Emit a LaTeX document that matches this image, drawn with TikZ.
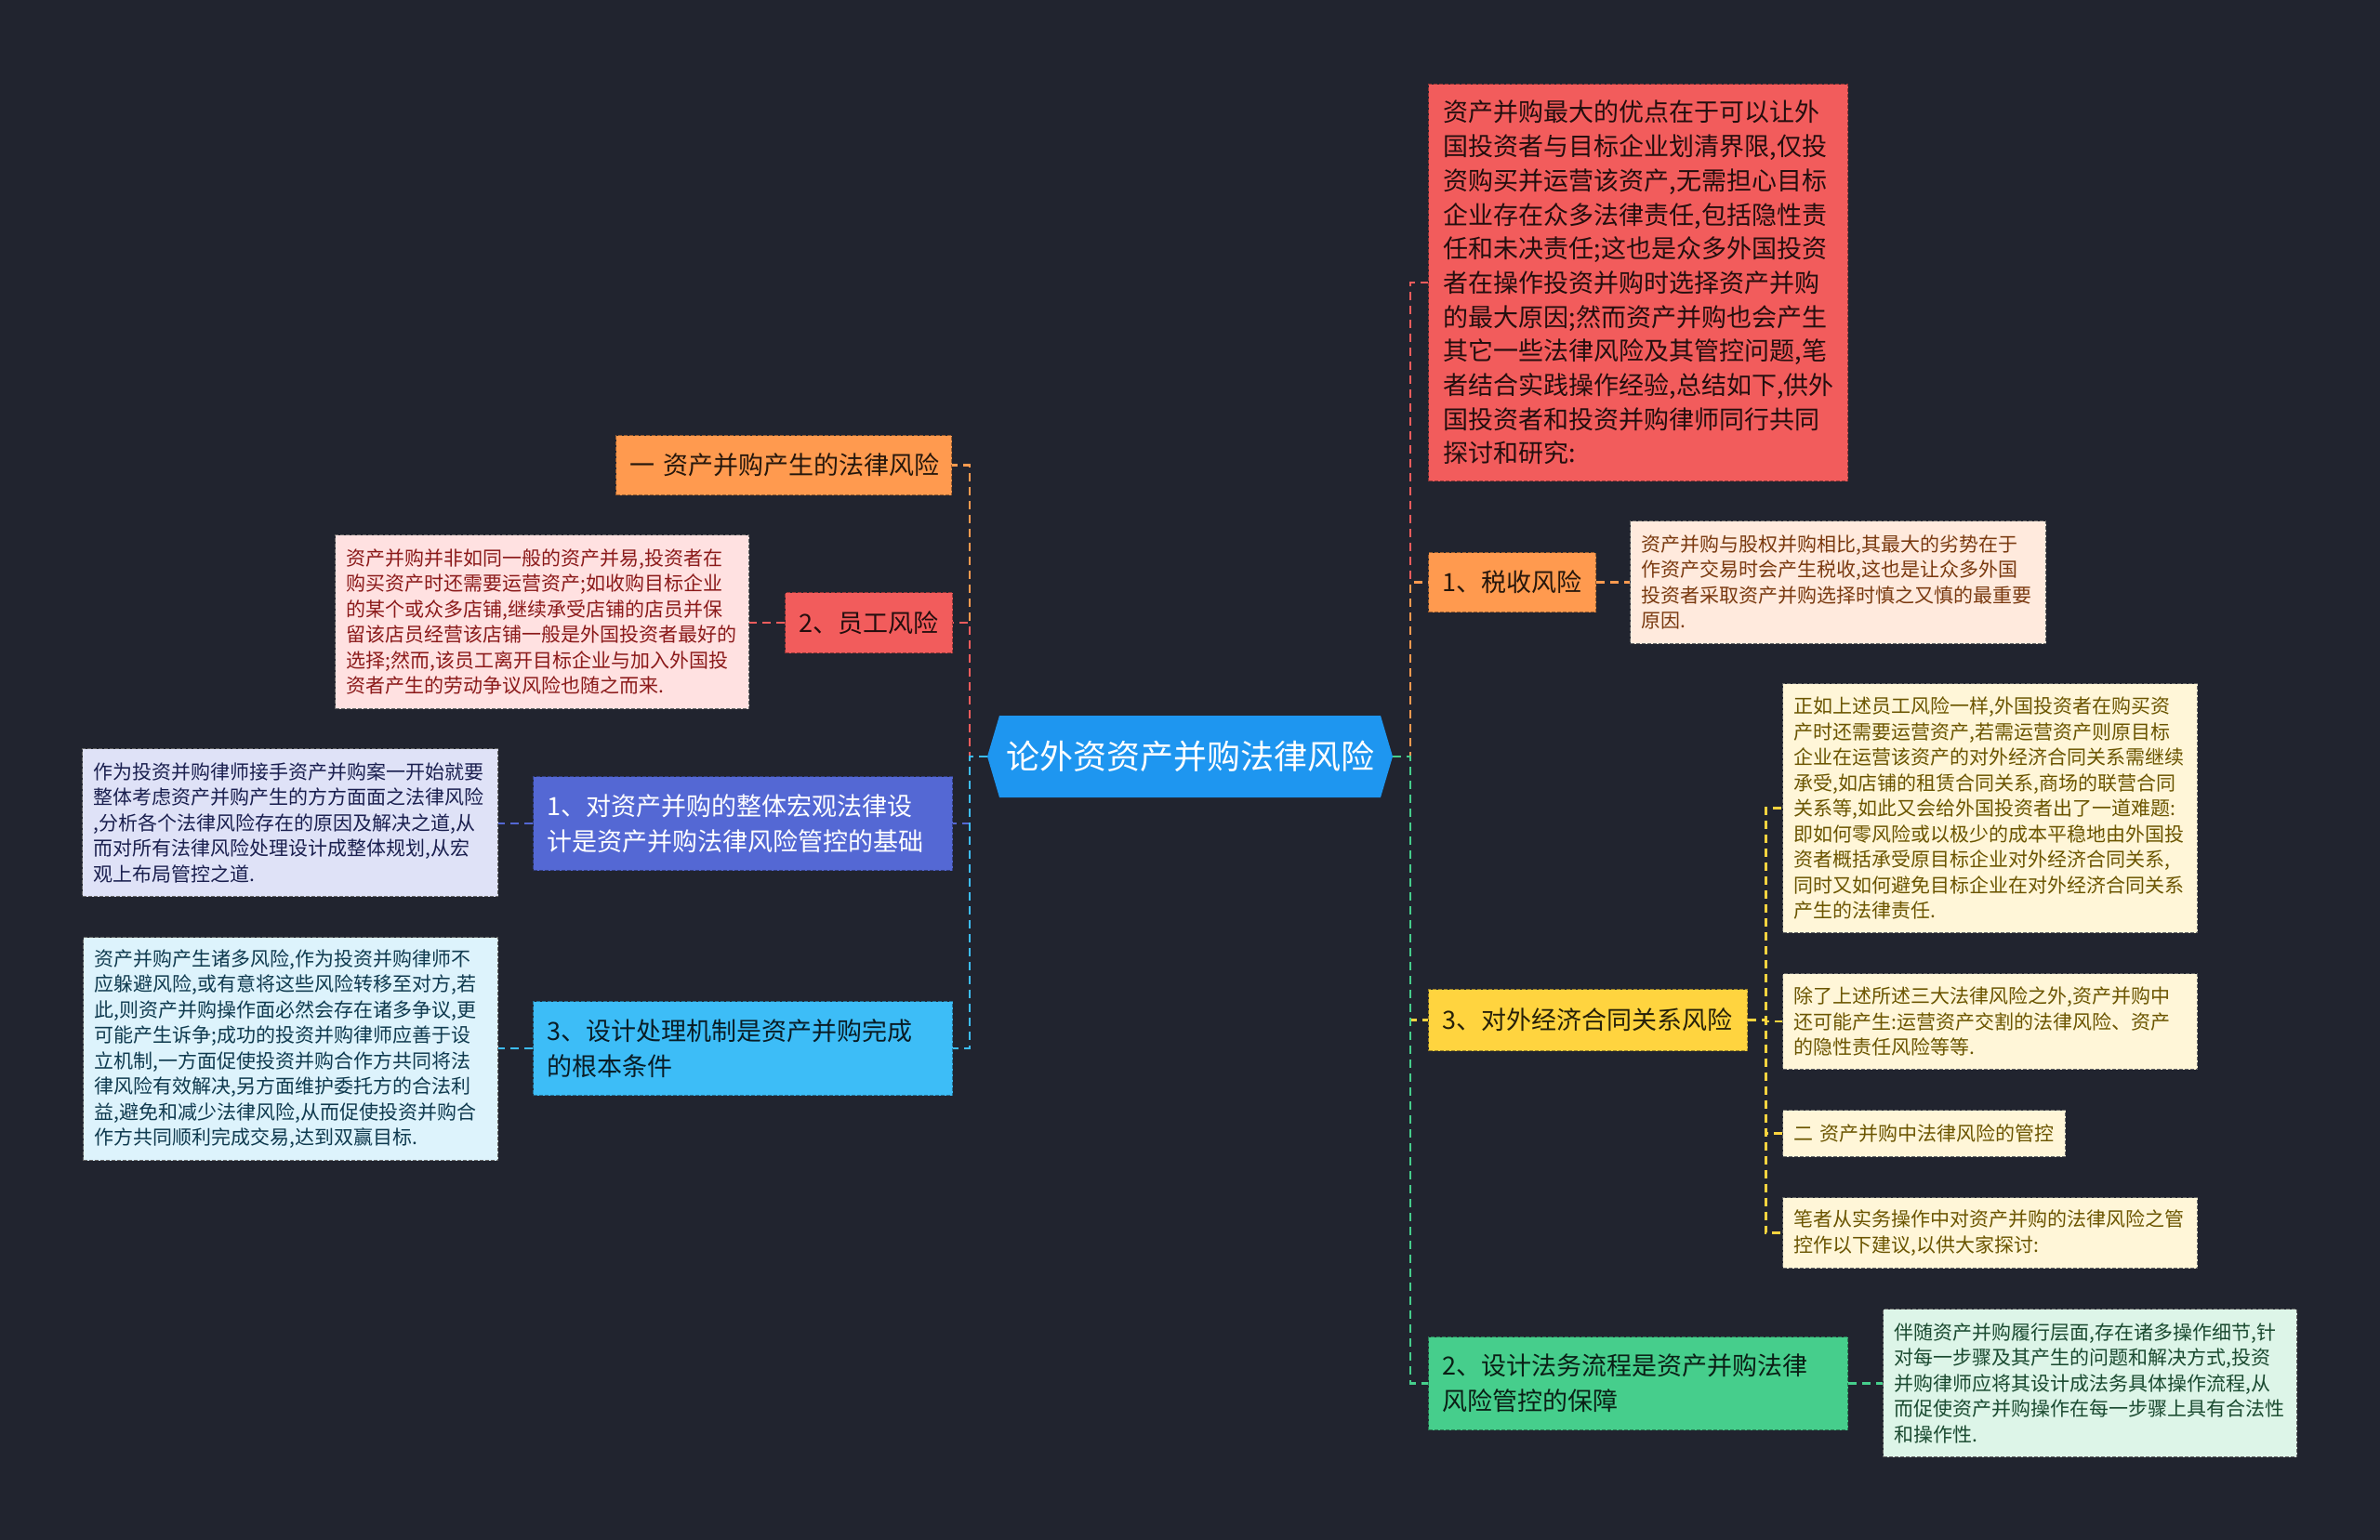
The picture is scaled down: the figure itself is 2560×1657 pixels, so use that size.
\documentclass[tikz,border=0pt]{standalone}
\usepackage{fontspec}
\setmainfont{Noto Sans CJK SC}
\definecolor{bg}{HTML}{21242F}
\definecolor{cCen}{HTML}{1E96F0}
\definecolor{cOr}{HTML}{FF9A4F}
\definecolor{cRd}{HTML}{F25C5C}
\definecolor{cBl}{HTML}{5468D4}
\definecolor{cCy}{HTML}{3DBDF7}
\definecolor{cYe}{HTML}{FFD43F}
\definecolor{cGr}{HTML}{46CE8C}
\definecolor{lPk}{HTML}{FFE1E1}
\definecolor{lLv}{HTML}{DFE2F7}
\definecolor{lCy}{HTML}{DDF3FC}
\definecolor{lPe}{HTML}{FFEADD}
\definecolor{lYe}{HTML}{FFF6D8}
\definecolor{lGr}{HTML}{DDF5E8}
\definecolor{tPk}{HTML}{8B1A1A}
\definecolor{tLv}{HTML}{1A1F4F}
\definecolor{tCy}{HTML}{0F3A4F}
\definecolor{tPe}{HTML}{7A3A10}
\definecolor{tYe}{HTML}{6B5500}
\definecolor{tGr}{HTML}{1A4A30}
\tikzset{
  edgebox/.style={dash pattern=on 4pt off 2pt, line width=1.3pt},
  lvA/.style={anchor=north west, align=left, inner xsep=15pt, inner ysep=0pt,
    font=\fontsize{27}{38}\selectfont, edgebox},
  det/.style={anchor=north west, align=left, inner xsep=12pt, inner ysep=0pt,
    font=\fontsize{21}{27.5}\selectfont, edgebox},
  conn/.style={line width=2.5pt, dash pattern=on 9pt off 6pt},
  orbox/.style={fill=cOr, draw=cOr!60!black, text=black!85!cOr},
  rdbox/.style={fill=cRd, draw=cRd!60!black, text=black!85!cRd},
  blbox/.style={fill=cBl, draw=cBl!60!black, text=white},
  cybox/.style={fill=cCy, draw=cCy!60!black, text=black!85!cCy},
  yebox/.style={fill=cYe, draw=cYe!60!black, text=black!85!cYe},
  grbox/.style={fill=cGr, draw=cGr!60!black, text=black!85!cGr},
  pkbox/.style={fill=lPk, draw=black!60, text=tPk},
  lvbox/.style={fill=lLv, draw=black!60, text=tLv},
  lcbox/.style={fill=lCy, draw=black!60, text=tCy},
  pebox/.style={fill=lPe, draw=black!60, text=tPe},
  lybox/.style={fill=lYe, draw=black!60, text=tYe},
  lgbox/.style={fill=lGr, draw=black!60, text=tGr},
}
\begin{document}
\begin{tikzpicture}[x=1pt,y=-1pt]
\fill[bg] (0,0) rectangle (2560,1657);
\useasboundingbox (0,0) rectangle (2560,1657);

% central topic
\fill[cCen] (1062,814) -- (1075,770) -- (1485,770) -- (1498,814) -- (1485,858) -- (1075,858) -- cycle;
\node[minimum width=436pt, minimum height=88pt, inner sep=0pt, text=white,
  font=\fontsize{36}{40}\selectfont] (c) at (1280,814) {论外资资产并购法律风险};

% left side
\node[lvA, orbox, minimum width=361pt, minimum height=64pt, text width=331pt] (n1) at (662,468) {一~资产并购产生的法律风险};
\node[lvA, rdbox, minimum width=180pt, minimum height=65pt, text width=150pt] (n2) at (844,637) {2、员工风险};
\node[det, pkbox, minimum width=445pt, minimum height=187pt, text width=421pt] (d2) at (360,575) {资产并购并非如同一般的资产并易,投资者在\\购买资产时还需要运营资产;如收购目标企业\\的某个或众多店铺,继续承受店铺的店员并保\\留该店员经营该店铺一般是外国投资者最好的\\选择;然而,该员工离开目标企业与加入外国投\\资者产生的劳动争议风险也随之而来.};
\node[lvA, blbox, minimum width=451pt, minimum height=101pt, text width=421pt] (n3) at (573,835) {1、对资产并购的整体宏观法律设\\计是资产并购法律风险管控的基础};
\node[det, lvbox, minimum width=447pt, minimum height=159pt, text width=423pt] (d3) at (88,805) {作为投资并购律师接手资产并购案一开始就要\\整体考虑资产并购产生的方方面面之法律风险\\,分析各个法律风险存在的原因及解决之道,从\\而对所有法律风险处理设计成整体规划,从宏\\观上布局管控之道.};
\node[lvA, cybox, minimum width=451pt, minimum height=101pt, text width=421pt] (n4) at (573,1077) {3、设计处理机制是资产并购完成\\的根本条件};
\node[det, lcbox, minimum width=446pt, minimum height=240pt, text width=422pt] (d4) at (89,1008) {资产并购产生诸多风险,作为投资并购律师不\\应躲避风险,或有意将这些风险转移至对方,若\\此,则资产并购操作面必然会存在诸多争议,更\\可能产生诉争;成功的投资并购律师应善于设\\立机制,一方面促使投资并购合作方共同将法\\律风险有效解决,另方面维护委托方的合法利\\益,避免和减少法律风险,从而促使投资并购合\\作方共同顺利完成交易,达到双赢目标.};

% right side
\node[lvA, rdbox, inner xsep=16pt, font=\fontsize{27}{36.7}\selectfont, minimum width=451pt, minimum height=427pt, text width=419pt] (r1) at (1536,90) {资产并购最大的优点在于可以让外\\国投资者与目标企业划清界限,仅投\\资购买并运营该资产,无需担心目标\\企业存在众多法律责任,包括隐性责\\任和未决责任;这也是众多外国投资\\者在操作投资并购时选择资产并购\\的最大原因;然而资产并购也会产生\\其它一些法律风险及其管控问题,笔\\者结合实践操作经验,总结如下,供外\\国投资者和投资并购律师同行共同\\探讨和研究:};
\node[lvA, orbox, minimum width=180pt, minimum height=64pt, text width=150pt] (r2) at (1536,594) {1、税收风险};
\node[det, pebox, minimum width=447pt, minimum height=132pt, text width=423pt] (p2) at (1753,560) {资产并购与股权并购相比,其最大的劣势在于\\作资产交易时会产生税收,这也是让众多外国\\投资者采取资产并购选择时慎之又慎的最重要\\原因.};
\node[lvA, yebox, minimum width=343pt, minimum height=66pt, text width=313pt] (r3) at (1536,1064) {3、对外经济合同关系风险};
\node[det, lybox, minimum width=446pt, minimum height=268pt, text width=422pt] (y1) at (1917,735) {正如上述员工风险一样,外国投资者在购买资\\产时还需要运营资产,若需运营资产则原目标\\企业在运营该资产的对外经济合同关系需继续\\承受,如店铺的租赁合同关系,商场的联营合同\\关系等,如此又会给外国投资者出了一道难题:\\即如何零风险或以极少的成本平稳地由外国投\\资者概括承受原目标企业对外经济合同关系,\\同时又如何避免目标企业在对外经济合同关系\\产生的法律责任.};
\node[det, lybox, minimum width=446pt, minimum height=103pt, text width=422pt] (y2) at (1917,1047) {除了上述所述三大法律风险之外,资产并购中\\还可能产生:运营资产交割的法律风险、资产\\的隐性责任风险等等.};
\node[det, lybox, minimum width=304pt, minimum height=50pt, text width=280pt] (y3) at (1917,1194) {二~资产并购中法律风险的管控};
\node[det, lybox, minimum width=446pt, minimum height=76pt, text width=422pt] (y4) at (1917,1288) {笔者从实务操作中对资产并购的法律风险之管\\控作以下建议,以供大家探讨:};
\node[lvA, grbox, minimum width=451pt, minimum height=100pt, text width=421pt] (r4) at (1536,1438) {2、设计法务流程是资产并购法律\\风险管控的保障};
\node[det, lgbox, minimum width=445pt, minimum height=159pt, text width=421pt] (g1) at (2025,1408) {伴随资产并购履行层面,存在诸多操作细节,针\\对每一步骤及其产生的问题和解决方式,投资\\并购律师应将其设计成法务具体操作流程,从\\而促使资产并购操作在每一步骤上具有合法性\\和操作性.};

% connectors, left
\draw[conn, cOr] (c.west) -- ++(-19,0) |- (n1.east);
\draw[conn, cRd] (c.west) -- ++(-19,0) |- (n2.east);
\draw[conn, cBl] (c.west) -- ++(-19,0) |- (n3.east);
\draw[conn, cCy] (c.west) -- ++(-19,0) |- (n4.east);
\draw[conn, cRd] (n2.west) -- (n2.west -| d2.east);
\draw[conn, cBl] (n3.west) -- (n3.west -| d3.east);
\draw[conn, cCy] (n4.west) -- (n4.west -| d4.east);
% connectors, right
\draw[conn, cRd] (c.east) -- ++(19,0) |- (r1.west);
\draw[conn, cOr] (c.east) -- ++(19,0) |- (r2.west);
\draw[conn, cYe] (c.east) -- ++(19,0) |- (r3.west);
\draw[conn, cGr] (c.east) -- ++(19,0) |- (r4.west);
\draw[conn, cOr] (r2.east) -- (r2.east -| p2.west);
\draw[conn, cGr] (r4.east) -- (r4.east -| g1.west);
\draw[conn, cYe] (r3.east) -- ++(19,0) |- (y1.west);
\draw[conn, cYe] (r3.east) -- ++(19,0) |- (y2.west);
\draw[conn, cYe] (r3.east) -- ++(19,0) |- (y3.west);
\draw[conn, cYe] (r3.east) -- ++(19,0) |- (y4.west);
\end{tikzpicture}
\end{document}
